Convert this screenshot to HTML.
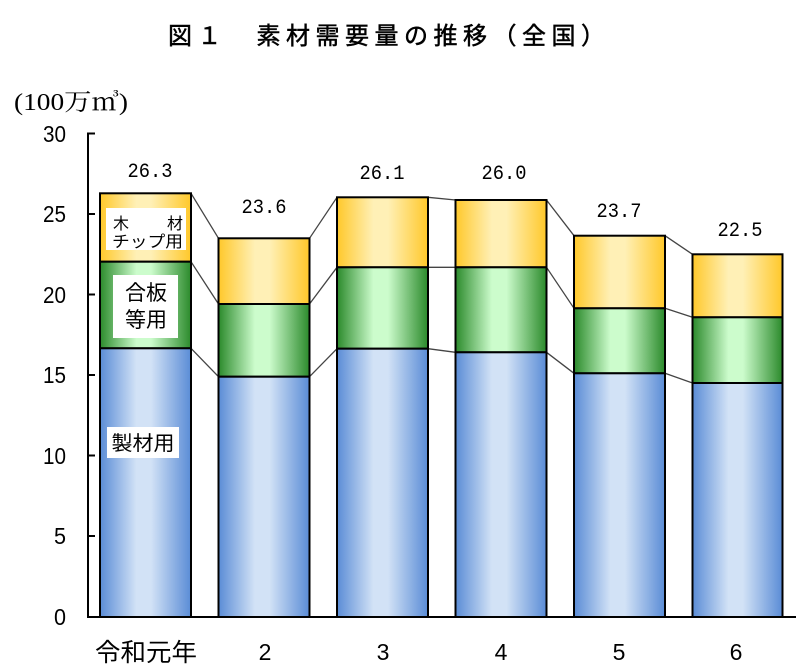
<!DOCTYPE html>
<html>
<head>
<meta charset="utf-8">
<style>
  html,body{margin:0;padding:0;background:#fff;}
  svg{display:block;}
  .jp{font-family:"Liberation Sans","Noto Sans CJK JP",sans-serif;}
  .num{font-family:"Liberation Sans","Noto Sans CJK JP",sans-serif;}
  .mono{font-family:"Liberation Mono","Noto Sans CJK JP",monospace;}
</style>
</head>
<body>
<svg width="810" height="672" viewBox="0 0 810 672" xmlns="http://www.w3.org/2000/svg">
  <defs>
    <linearGradient id="gb" x1="0" y1="0" x2="1" y2="0">
      <stop offset="0" stop-color="#5a8cd6"/>
      <stop offset="0.4" stop-color="#d2e2f6"/>
      <stop offset="0.56" stop-color="#d2e2f6"/>
      <stop offset="1" stop-color="#5a8cd6"/>
    </linearGradient>
    <linearGradient id="gg" x1="0" y1="0" x2="1" y2="0">
      <stop offset="0" stop-color="#2b8a2b"/>
      <stop offset="0.4" stop-color="#ccfccc"/>
      <stop offset="0.56" stop-color="#ccfccc"/>
      <stop offset="1" stop-color="#2b8a2b"/>
    </linearGradient>
    <linearGradient id="gy" x1="0" y1="0" x2="1" y2="0">
      <stop offset="0" stop-color="#ffc82a"/>
      <stop offset="0.4" stop-color="#fff0b6"/>
      <stop offset="0.56" stop-color="#fff0b6"/>
      <stop offset="1" stop-color="#ffc82a"/>
    </linearGradient>
  </defs>

  <!-- Title -->
  <text x="168" y="44" class="jp" font-size="24" font-weight="normal" stroke="#000" stroke-width="0.5" textLength="437" lengthAdjust="spacing" fill="#000">図１　素材需要量の推移（全国）</text>

  <!-- unit label -->
  <text x="14" y="110" font-family="Liberation Serif, 'Noto Serif CJK SC', serif" font-size="24" textLength="114" lengthAdjust="spacingAndGlyphs" fill="#000">(100万㎥)</text>

  <!-- connectors -->
  <g stroke="#444" stroke-width="1.3" fill="none">
    <line x1="191" y1="193.3" x2="218.5" y2="238.3"/>
    <line x1="309.5" y1="238.3" x2="337" y2="197.3"/>
    <line x1="428" y1="197.3" x2="455.5" y2="200"/>
    <line x1="546.5" y1="200" x2="574" y2="235.7"/>
    <line x1="665" y1="235.7" x2="692.5" y2="254.3"/>
    <line x1="191" y1="261.7" x2="218.5" y2="304"/>
    <line x1="309.5" y1="304" x2="337" y2="267.3"/>
    <line x1="428" y1="267.3" x2="455.5" y2="267.3"/>
    <line x1="546.5" y1="267.3" x2="574" y2="308.3"/>
    <line x1="665" y1="308.3" x2="692.5" y2="317.3"/>
    <line x1="191" y1="348.3" x2="218.5" y2="376.7"/>
    <line x1="309.5" y1="376.7" x2="337" y2="348.7"/>
    <line x1="428" y1="348.7" x2="455.5" y2="352.3"/>
    <line x1="546.5" y1="352.3" x2="574" y2="373.3"/>
    <line x1="665" y1="373.3" x2="692.5" y2="383"/>
  </g>

  <!-- bars -->
  <g stroke="#000" stroke-width="2">
    <rect x="100" y="193.3" width="91" height="68.4" fill="url(#gy)"/>
    <rect x="100" y="261.7" width="91" height="86.6" fill="url(#gg)"/>
    <rect x="100" y="348.3" width="91" height="268.7" fill="url(#gb)"/>
    <rect x="218.5" y="238.3" width="91" height="65.7" fill="url(#gy)"/>
    <rect x="218.5" y="304" width="91" height="72.7" fill="url(#gg)"/>
    <rect x="218.5" y="376.7" width="91" height="240.3" fill="url(#gb)"/>
    <rect x="337" y="197.3" width="91" height="70" fill="url(#gy)"/>
    <rect x="337" y="267.3" width="91" height="81.4" fill="url(#gg)"/>
    <rect x="337" y="348.7" width="91" height="268.3" fill="url(#gb)"/>
    <rect x="455.5" y="200" width="91" height="67.3" fill="url(#gy)"/>
    <rect x="455.5" y="267.3" width="91" height="85" fill="url(#gg)"/>
    <rect x="455.5" y="352.3" width="91" height="264.7" fill="url(#gb)"/>
    <rect x="574" y="235.7" width="91" height="72.6" fill="url(#gy)"/>
    <rect x="574" y="308.3" width="91" height="65" fill="url(#gg)"/>
    <rect x="574" y="373.3" width="91" height="243.7" fill="url(#gb)"/>
    <rect x="692.5" y="254.3" width="90" height="63" fill="url(#gy)"/>
    <rect x="692.5" y="317.3" width="90" height="65.7" fill="url(#gg)"/>
    <rect x="692.5" y="383" width="90" height="234" fill="url(#gb)"/>
  </g>

  <!-- in-bar labels -->
  <rect x="106" y="208" width="80" height="42" fill="#fff"/>
  <text x="113" y="229" class="jp" font-size="16" fill="#000">木</text>
  <text x="167" y="229" class="jp" font-size="16" fill="#000">材</text>
  <text x="112" y="247" class="jp" font-size="16" textLength="71" lengthAdjust="spacingAndGlyphs" fill="#000">チップ用</text>

  <rect x="113" y="275" width="65" height="63" fill="#fff"/>
  <text x="146" y="300" class="jp" font-size="21" text-anchor="middle" fill="#000">合板</text>
  <text x="146" y="327" class="jp" font-size="21" text-anchor="middle" fill="#000">等用</text>

  <rect x="107" y="427" width="72" height="31" fill="#fff"/>
  <text x="143" y="450" class="jp" font-size="20" text-anchor="middle" textLength="63" lengthAdjust="spacingAndGlyphs" fill="#000">製材用</text>

  <!-- value labels -->
  <g class="mono" font-size="20" fill="#000" text-anchor="middle">
    <text x="150" y="177" textLength="45" lengthAdjust="spacingAndGlyphs">26.3</text>
    <text x="264" y="213" textLength="45" lengthAdjust="spacingAndGlyphs">23.6</text>
    <text x="382" y="179" textLength="45" lengthAdjust="spacingAndGlyphs">26.1</text>
    <text x="504" y="179" textLength="45" lengthAdjust="spacingAndGlyphs">26.0</text>
    <text x="619" y="217" textLength="45" lengthAdjust="spacingAndGlyphs">23.7</text>
    <text x="740" y="236" textLength="45" lengthAdjust="spacingAndGlyphs">22.5</text>
  </g>

  <!-- axes -->
  <g stroke="#000" stroke-width="2">
    <line x1="88" y1="132.5" x2="88" y2="618"/>
    <line x1="87" y1="617" x2="796" y2="617"/>
    <line x1="88" y1="133.5" x2="95" y2="133.5"/>
    <line x1="88" y1="214" x2="95" y2="214"/>
    <line x1="88" y1="294.5" x2="95" y2="294.5"/>
    <line x1="88" y1="375" x2="95" y2="375"/>
    <line x1="88" y1="455.5" x2="95" y2="455.5"/>
    <line x1="88" y1="536" x2="95" y2="536"/>
  </g>

  <!-- y tick labels -->
  <g class="num" font-size="23" fill="#000" text-anchor="end">
    <text x="66" y="142" textLength="23" lengthAdjust="spacingAndGlyphs">30</text>
    <text x="66" y="222" textLength="23" lengthAdjust="spacingAndGlyphs">25</text>
    <text x="66" y="303" textLength="23" lengthAdjust="spacingAndGlyphs">20</text>
    <text x="66" y="383" textLength="23" lengthAdjust="spacingAndGlyphs">15</text>
    <text x="66" y="464" textLength="23" lengthAdjust="spacingAndGlyphs">10</text>
    <text x="66" y="544" textLength="12" lengthAdjust="spacingAndGlyphs">5</text>
    <text x="66" y="625" textLength="12" lengthAdjust="spacingAndGlyphs">0</text>
  </g>

  <!-- x labels -->
  <text x="146" y="661" class="jp" font-size="25" text-anchor="middle" textLength="102" lengthAdjust="spacingAndGlyphs" fill="#000">令和元年</text>
  <g class="num" font-size="23" fill="#000" text-anchor="middle">
    <text x="265" y="660">2</text>
    <text x="383" y="660">3</text>
    <text x="501" y="660">4</text>
    <text x="619" y="660">5</text>
    <text x="736" y="660">6</text>
  </g>
</svg>
</body>
</html>
